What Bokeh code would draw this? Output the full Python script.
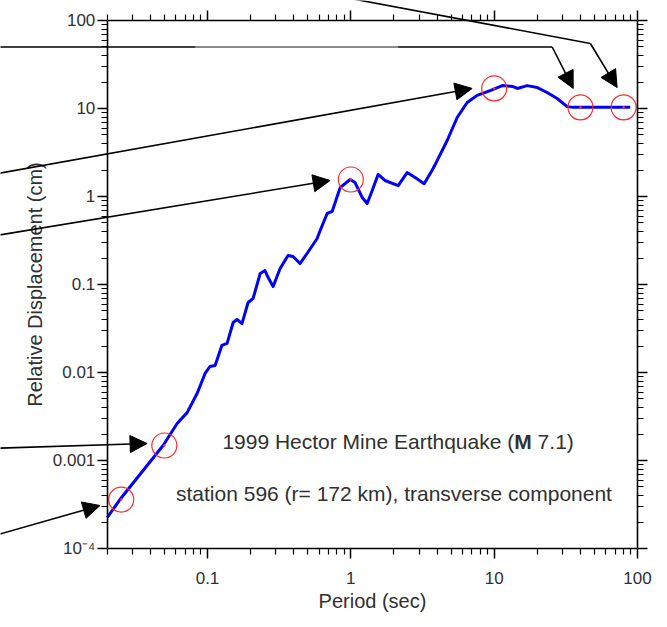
from bokeh.plotting import figure
from bokeh.models import (LogAxis, FixedTicker, CustomJSTickFormatter, Arrow,
                          NormalHead, Label)
from bokeh.embed import file_html
from bokeh.resources import INLINE

# ---------------- data ----------------
period = [0.02, 0.0245, 0.049, 0.0614, 0.0721, 0.0846, 0.0962, 0.104, 0.113,
          0.126, 0.137, 0.151, 0.161, 0.174, 0.192, 0.208, 0.233, 0.252, 0.265,
          0.287, 0.321, 0.365, 0.395, 0.442, 0.495, 0.582, 0.611, 0.684, 0.741,
          0.842, 0.989, 1.07, 1.20, 1.30, 1.41, 1.55, 1.73, 2.14, 2.47, 2.81,
          3.25, 3.75, 4.0, 4.70, 5.52, 6.48, 7.61, 9.37, 11.4, 13.4, 14.5,
          17.0, 20.0, 23.4, 27.5, 32.3, 35.6, 44.6, 89.0]
displacement = [2.25e-4, 3.6e-4, 1.48e-3, 2.63e-3, 3.5e-3, 5.77e-3, 9.75e-3,
                0.0117, 0.0120, 0.0203, 0.0214, 0.037, 0.040, 0.036, 0.0624,
                0.0693, 0.133, 0.144, 0.120, 0.0949, 0.152, 0.214, 0.208,
                0.173, 0.225, 0.333, 0.411, 0.641, 0.676, 1.26, 1.56, 1.44,
                0.975, 0.832, 1.17, 1.78, 1.52, 1.33, 1.87, 1.64, 1.40, 2.08,
                2.56, 4.33, 7.9, 11.7, 14.1, 16.0, 18.2, 17.8, 16.9, 18.2,
                17.3, 15.2, 13.0, 10.5, 10.3, 10.3, 10.3]

circle_period = [0.025, 0.05, 1.0, 10.0, 40.0, 80.0]
circle_disp = [3.6e-4, 1.48e-3, 1.56, 16.9, 10.3, 10.3]

# arrows: start -> (optional bend) -> tip
arrow_start_x = [0.003, 0.003, 0.003, 0.003, 0.003, 0.8]
arrow_start_y = [1.35e-4, 1.37e-3, 0.35, 1.75, 50.0, 190.0]
arrow_bend_x = [None, None, None, None, 25.4, 46.9]
arrow_bend_y = [None, None, None, None, 50.0, 54.8]
arrow_tip_x = [0.0178, 0.0379, 0.717, 7.02, 35.6, 72.1]
arrow_tip_y = [3.08e-4, 1.56e-3, 1.52, 16.9, 16.9, 17.3]
gray_seg_x = [0.082, 2.14]
gray_seg_y = [50.0, 50.0]

x_limits = (0.02, 100)
y_limits = (1e-4, 100)
x_ticks = [0.1, 1, 10, 100]
x_tick_labels = ["0.1", "1", "10", "100"]
y_ticks = [1e-4, 1e-3, 1e-2, 1e-1, 1, 10, 100]
y_tick_labels = ["10\u207b\u2074", "0.001", "0.01", "0.1", "1", "10", "100"]

title_1a = "1999 Hector Mine Earthquake ("
title_1b = "M"
title_1c = "7.1)"
title_2 = "station 596 (r= 172 km), transverse component"

# ---------------- styling helpers ----------------
FONT = "Liberation Sans"
TXT = "#303030"

def minors(lo_exp, hi_exp):
    out = []
    for e in range(lo_exp, hi_exp):
        for m in range(2, 10):
            out.append(m * 10.0 ** e)
    return out

x_ticker = FixedTicker(ticks=x_ticks, minor_ticks=minors(-2, 2))
y_ticker = FixedTicker(ticks=y_ticks, minor_ticks=minors(-4, 2))

fmt_code = ("const e = Math.round(Math.log10(tick)); const i = e - emin;"
            "return (i >= 0 && i < labels.length) ? labels[i] : '';")
x_fmt = CustomJSTickFormatter(args=dict(labels=x_tick_labels, emin=-1), code=fmt_code)
y_fmt = CustomJSTickFormatter(args=dict(labels=y_tick_labels, emin=-4), code=fmt_code)
blank = CustomJSTickFormatter(code="return '';")

# the plotting frame covers the whole canvas so that arrows can run past
# the axes box; the axes are pinned at the data limits
W, H = 667, 627
pad_l, pad_r, pad_t, pad_b = 106.8, 30.0, 20.0, 79.0
dec_x = (W - pad_l - pad_r) / 3.699
dec_y = (H - pad_t - pad_b) / 6.0
x_range = (10 ** (-1.699 - pad_l / dec_x), 10 ** (2 + pad_r / dec_x))
y_range = (10 ** (-4 - pad_b / dec_y), 10 ** (2 + pad_t / dec_y))

p = figure(width=W, height=H, x_axis_type="log", y_axis_type="log",
           x_axis_location=None, y_axis_location=None,
           x_range=x_range, y_range=y_range,
           output_backend="svg", toolbar_location=None,
           min_border=0)
p.outline_line_color = None
p.grid.visible = False
p.background_fill_color = "white"
p.border_fill_color = "white"

def make_axis(ticker, fmt, loc, bounds):
    ax = LogAxis(ticker=ticker, formatter=fmt, fixed_location=loc, bounds=bounds)
    ax.axis_line_width = 1.6
    ax.axis_line_color = "black"
    ax.major_tick_line_width = 1.5
    ax.minor_tick_line_width = 1.2
    ax.major_tick_line_color = "black"
    ax.minor_tick_line_color = "black"
    ax.major_tick_in = 0
    ax.major_tick_out = 10
    ax.minor_tick_in = 0
    ax.minor_tick_out = 6
    ax.major_label_text_font = FONT
    ax.major_label_text_font_size = "17px"
    ax.major_label_text_color = TXT
    ax.axis_label_text_font = FONT
    ax.axis_label_text_font_size = "20px"
    ax.axis_label_text_font_style = "normal"
    ax.axis_label_text_color = TXT
    return ax

xa = make_axis(x_ticker, x_fmt, y_limits[0], x_limits)
xa.major_label_standoff = 13
xa.axis_label = "Period (sec)"
xa.axis_label_standoff = 3
p.add_layout(xa, "below")

ya = make_axis(y_ticker, y_fmt, x_limits[0], y_limits)
ya.major_label_standoff = 2
ya.axis_label = "Relative Displacement (cm)"
ya.axis_label_standoff = 4
p.add_layout(ya, "left")

top = make_axis(x_ticker, blank, y_limits[1], x_limits)
p.add_layout(top, "above")
right = make_axis(y_ticker, blank, x_limits[1], y_limits)
p.add_layout(right, "right")

# curve
p.line(period, displacement, line_color="#0000ff", line_width=3,
       line_join="round")

# circles
p.scatter(circle_period, circle_disp, marker="circle", size=25,
          fill_color=None, line_color="#ff2a2a", line_width=1.2)
p.scatter(circle_period, circle_disp, marker="circle", size=2.5,
          fill_color="#ff2a2a", line_color=None)

# arrows
for i in range(len(arrow_start_x)):
    sx, sy = arrow_start_x[i], arrow_start_y[i]
    if arrow_bend_x[i] is not None:
        p.add_layout(Arrow(x_start=sx, y_start=sy, x_end=arrow_bend_x[i],
                           y_end=arrow_bend_y[i], end=None,
                           line_color="black", line_width=1.6))
        sx, sy = arrow_bend_x[i], arrow_bend_y[i]
    p.add_layout(Arrow(x_start=sx, y_start=sy, x_end=arrow_tip_x[i],
                       y_end=arrow_tip_y[i],
                       end=NormalHead(size=17, fill_color="black",
                                      line_color="black", line_width=1),
                       line_color="black", line_width=1.6))
p.add_layout(Arrow(x_start=gray_seg_x[0], y_start=gray_seg_y[0],
                   x_end=gray_seg_x[1], y_end=gray_seg_y[1], end=None,
                   line_color="#8a8a8a", line_width=2.2))

# annotation text
def lab(x, y, text, align, style="normal"):
    p.add_layout(Label(x=x, y=y, text=text, text_align=align,
                       text_baseline="middle", text_font=FONT,
                       text_font_size="21px", text_color=TXT,
                       text_font_style=style))

lab(13.8, 1.64e-3, title_1a, "right")
lab(13.8, 1.64e-3, title_1b, "left", "bold")
lab(20.1, 1.64e-3, title_1c, "left")
lab(2.0, 4.2e-4, title_2, "center")

open("out.html", "w").write(file_html(p, INLINE))
